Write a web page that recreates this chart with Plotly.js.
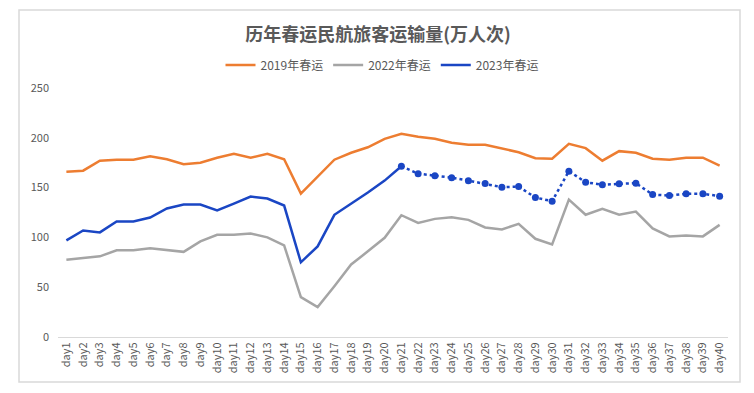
<!DOCTYPE html>
<html>
<head>
<meta charset="utf-8">
<script src="https://cdn.plot.ly/plotly-3.0.1.min.js"></script>
<style>html,body{margin:0;padding:0;background:#fff;}#chart{width:754px;height:393px;}</style>
</head>
<body>
<div id="chart"></div>
<script>
const days = Array.from({length: 40}, (_, i) => 'day' + (i + 1));
const names = ['2019年春运', '2022年春运', '2023年春运'];
const y2019 = [166,167,177,178,178,181.5,178.5,173.5,175,180,184,180,184,178.5,144,161,178,185,190.5,199,204,201,199,195,193,193,189,185.5,179.5,179,194,189.6,177,186.6,185,179,178,180,180,172];
const y2022 = [77.5,79,81,87,87,89,87.5,85.5,96,102.6,102.6,104,100,92,40,30,51,72.8,86,99.6,122.3,114.6,118.6,120.3,117.6,110,108,113.6,98.6,92.9,138,122.7,128.7,122.7,126,109,101,102,101,112.6];
const y2023 = [97,107,105,116,116,120,129,133,133,127,134,141,139,132,75,91,122.7,133.7,145,157,171.5,164,162,160,157,154,150.4,151,140,136.4,166.5,155.4,152.8,153.8,154.4,143,142,143.8,143.8,141.4];
const splitIndex = 20; // day21: after this the 2023 line is drawn dotted with markers
const colors = ['#ED7D31', '#A5A5A5', '#1A46C4'];

const font = '"Noto Sans CJK SC", "Noto Sans", sans-serif';

const traces = [
  {x: days, y: y2019, name: names[0], type: 'scatter', mode: 'lines', line: {color: colors[0], width: 2.5}},
  {x: days, y: y2022, name: names[1], type: 'scatter', mode: 'lines', line: {color: colors[1], width: 2.5}},
  {x: days.slice(0, splitIndex + 1), y: y2023.slice(0, splitIndex + 1), name: names[2], type: 'scatter', mode: 'lines', line: {color: colors[2], width: 2.5}},
  {x: days.slice(splitIndex), y: y2023.slice(splitIndex), name: names[2], showlegend: false, type: 'scatter', mode: 'lines+markers', line: {color: colors[2], width: 2.5, dash: 'dot'}, marker: {color: colors[2], size: 7}}
];

const ml = 58, mr = 26, mt = 88, mb = 56, W = 754, H = 393;
const pw = W - ml - mr, ph = H - mt - mb;
const px = v => (v - ml) / pw;
const py = v => (H - mb - v) / ph;

const layout = {
  width: W, height: H,
  margin: {l: ml, r: mr, t: mt, b: mb, pad: 0, autoexpand: false},
  paper_bgcolor: '#fff', plot_bgcolor: '#fff',
  font: {family: font, color: '#595959', size: 11},
  title: {text: '<b>历年春运民航旅客运输量(万人次)</b>', font: {family: font, size: 18, color: '#595959'}, x: 378 / W, xanchor: 'center', y: 1 - 35 / H, yanchor: 'middle'},
  showlegend: true,
  legend: {orientation: 'h', x: px(382), xanchor: 'center', y: py(65), yanchor: 'middle', font: {family: font, size: 12, color: '#595959'}, itemwidth: 30, traceorder: 'normal', bgcolor: 'rgba(0,0,0,0)'},
  xaxis: {type: 'category', range: [-0.5, 39.5], automargin: false, tickangle: -90, showline: true, linecolor: '#D9D9D9', linewidth: 1, showgrid: false, zeroline: false, ticks: '', tickfont: {family: font, size: 11, color: '#595959'}, fixedrange: true},
  yaxis: {range: [0, 250], dtick: 50, automargin: false, showgrid: false, zeroline: false, showline: false, ticks: '', ticklabelstandoff: 8, tickfont: {family: font, size: 11, color: '#595959'}, fixedrange: true},
  shapes: [
    {type: 'rect', xref: 'paper', yref: 'paper', x0: px(19), x1: px(740), y0: py(382), y1: py(10), line: {color: '#D9D9D9', width: 1.5}, fillcolor: 'rgba(0,0,0,0)', layer: 'below'}
  ]
};

Plotly.newPlot('chart', traces, layout, {displayModeBar: false, staticPlot: true});
</script>
</body>
</html>
